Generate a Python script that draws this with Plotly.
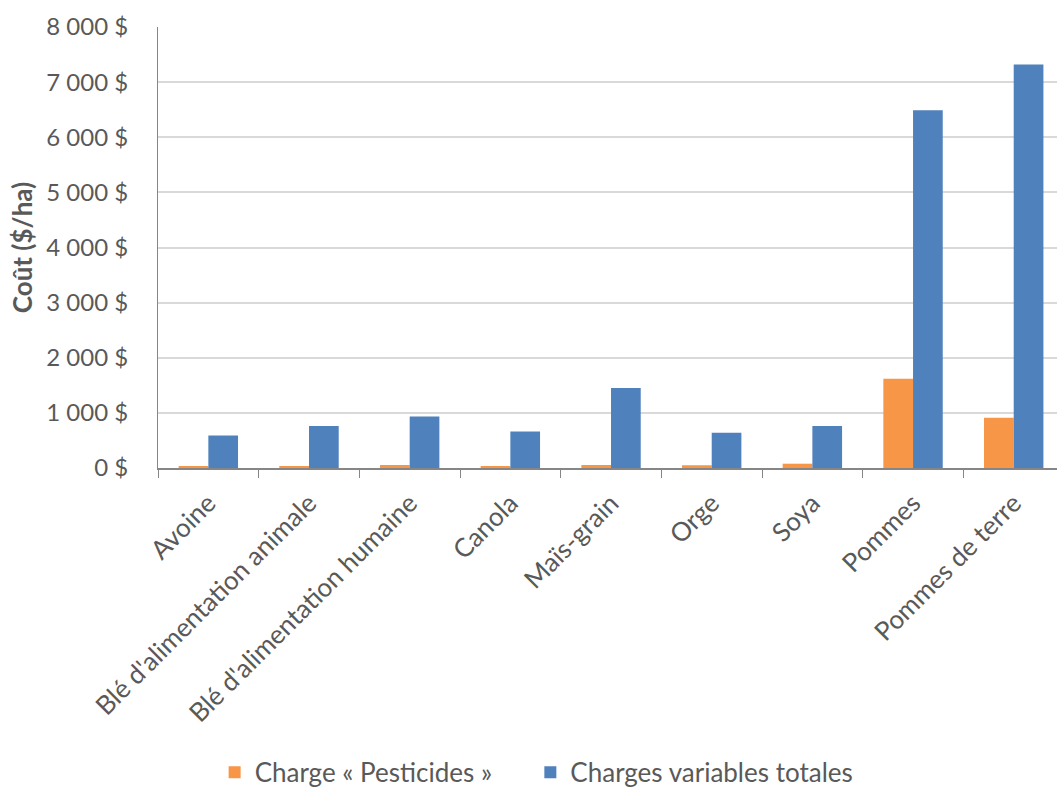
import plotly.graph_objects as go

categories = ["Avoine", "Blé d'alimentation animale", "Blé d'alimentation humaine",
              "Canola", "Maïs-grain", "Orge", "Soya", "Pommes", "Pommes de terre"]
pesticides = [30, 30, 54, 30, 54, 50, 78, 1620, 910]
totales = [590, 760, 935, 660, 1450, 640, 760, 6490, 7320]
tick_vals = [0, 1000, 2000, 3000, 4000, 5000, 6000, 7000, 8000]
tick_text = ["0 $", "1 000 $", "2 000 $", "3 000 $", "4 000 $",
             "5 000 $", "6 000 $", "7 000 $", "8 000 $"]

FONT = "Lato"
GRAY = "#595959"

fig = go.Figure()
fig.add_trace(go.Bar(x=categories, y=pesticides, name="Charge « Pesticides »\u00a0\u00a0\u00a0\u00a0\u00a0",
                     marker=dict(color="#F79646", line=dict(width=0))))
fig.add_trace(go.Bar(x=categories, y=totales, name="Charges variables totales",
                     marker=dict(color="#4F81BD", line=dict(width=0))))

fig.update_layout(
    width=1057, height=796,
    margin=dict(l=158, r=0, t=27, b=326),
    paper_bgcolor="white", plot_bgcolor="white",
    barmode="group", bargap=0.41, bargroupgap=0,
    font=dict(family=FONT, size=25, color=GRAY),
    showlegend=True,
    legend=dict(orientation="h", x=0.063, xanchor="left", xref="paper",
                y=-0.69, yanchor="middle", font=dict(size=26, color=GRAY),
                itemsizing="constant", traceorder="normal", itemwidth=30),
    xaxis=dict(
        type="category", range=[-0.5, 8.43],
        tickangle=-45, tickfont=dict(size=26, color=GRAY),
        showline=True, linecolor="#868686", linewidth=1.5,
        ticks="outside", ticklen=8, tickcolor="#868686", tickson="boundaries",
        showgrid=False, ticklabelstandoff=8,
    ),
    yaxis=dict(
        range=[0, 8000], tickvals=tick_vals, ticktext=tick_text,
        tickfont=dict(size=24, color=GRAY),
        showline=True, linecolor="#868686", linewidth=1,
        showgrid=True, gridcolor="#D9D9D9", gridwidth=1.5,
        zeroline=False, ticks="", ticklabelstandoff=24,
        title=dict(text="<b>Coût ($/ha)</b>", font=dict(size=26, color=GRAY), standoff=6),
    ),
)

fig.write_html("out.html")
